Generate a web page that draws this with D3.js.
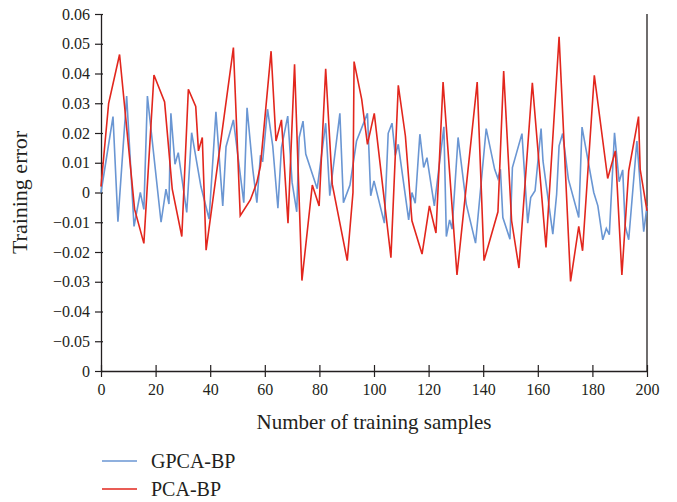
<!DOCTYPE html>
<html>
<head>
<meta charset="utf-8">
<script src="https://cdn.jsdelivr.net/npm/d3@7"></script>
<style>
    body { margin: 0; background: #fff; }
    svg text { font-family: "Liberation Serif", "DejaVu Serif", serif; fill: #231f20; }
</style>
</head>
<body>
<div id="chart"></div>
<script>
// values (x = sample number, y = training error)
const gpcaX = [0, 4.4, 6.2, 9.4, 12.1, 14.4, 15.7, 17.0, 22.0, 23.8, 24.9, 25.6, 27.1, 28.3, 31.4, 33.2, 36.6, 39.6, 42.1, 44.6,
    45.8, 48.5, 52.3, 53.5, 55.6, 57.1, 58.4, 59.2, 61.0, 62.9, 64.8, 66.1, 68.4, 70.0, 71.7, 72.6, 74.0, 75.0, 79.2, 82.3,
    83.8, 87.5, 88.8, 91.2, 93.6, 97.6, 98.8, 100.0, 103.8, 105.2, 106.6, 107.8, 108.9, 112.7, 113.9, 115.1, 116.8, 118.2, 119.4, 122.1,
    125.6, 126.5, 127.7, 128.6, 130.8, 133.8, 137.2, 141.1, 144.2, 145.4, 146.3, 147.2, 149.8, 150.7, 154.2, 156.3, 157.4, 159.0, 161.2, 161.9,
    165.5, 166.9, 167.8, 169.1, 171.2, 175.0, 176.2, 180.5, 182.0, 183.8, 185.1, 186.2, 188.1, 189.8, 191.1, 192.0, 193.3, 196.3, 198.8, 200];
const gpcaY = [0, 0.0255, -0.0098, 0.0324, -0.0114, 0, -0.0057, 0.0324, -0.0100, 0.0011, -0.0039, 0.0266, 0.0095, 0.0134, -0.0067, 0.0201, 0.0020, -0.0089, 0.0271, -0.0045,
    0.0154, 0.0244, -0.0034, 0.0285, 0.0078, -0.0034, 0.0125, 0.0103, 0.0280, 0.0157, -0.0053, 0.0151, 0.0257, 0.0034, -0.0065, 0.0185, 0.0240, 0.0129, 0.0013, 0.0233,
    -0.0011, 0.0266, -0.0034, 0.0025, 0.0173, 0.0266, -0.0011, 0.0039, -0.0103, 0.0199, 0.0233, 0.0125, 0.0162, -0.0092, 0, -0.0036, 0.0196, 0.0084, 0.0117, -0.0045,
    0.0221, -0.0148, -0.0092, -0.0123, 0.0185, -0.0039, -0.0170, 0.0215, 0.0078, 0.0047, 0.0078, -0.0084, -0.0157, 0.0084, 0.0198, -0.0103, -0.0017, 0.0006, 0.0215, 0.0106,
    -0.0140, -0.0006, 0.0157, 0.0198, 0.0045, -0.0084, 0.0220, 0, -0.0045, -0.0159, -0.0121, -0.0142, 0.0201, 0.0036, 0.0076, -0.0112, -0.0159, 0.0173, -0.0132, -0.0045];

const pcaX = [0, 2.8, 6.8, 12.3, 15.7, 19.4, 23.3, 26.1, 29.6, 32.0, 34.7, 35.7, 37.1, 38.5, 48.5, 51.0, 54.7, 57.1, 58.4, 62.3,
    64.1, 66.1, 68.5, 70.9, 73.6, 77.4, 79.9, 82.3, 84.7, 90.2, 92.3, 92.7, 95.5, 97.6, 100.1, 106.2, 108.9, 111.5, 113.9, 117.6,
    120.3, 122.7, 125.3, 130.4, 137.8, 140.3, 145.4, 147.5, 150.4, 153.1, 158.0, 163.0, 167.8, 172.0, 175.0, 176.4, 180.7, 185.6, 188.4, 190.8,
    193.3, 196.9, 197.5, 200];
const pcaY = [0.0020, 0.0300, 0.0464, -0.0056, -0.0171, 0.0395, 0.0304, 0.0011, -0.0148, 0.0347, 0.0289, 0.0140, 0.0185, -0.0194, 0.0487, -0.0078, -0.0025, 0.0034, 0.0089, 0.0475,
    0.0173, 0.0244, -0.0103, 0.0431, -0.0296, 0.0025, -0.0045, 0.0416, 0.0028, -0.0229, 0, 0.0440, 0.0313, 0.0162, 0.0266, -0.0219, 0.0360, 0.0190, -0.0095, -0.0207,
    -0.0045, -0.0136, 0.0371, -0.0277, 0.0371, -0.0229, -0.0065, 0.0408, -0.0095, -0.0254, 0.0369, -0.0185, 0.0523, -0.0299, -0.0114, -0.0196, 0.0394, 0.0047, 0.0140, -0.0277,
    0.0073, 0.0255, 0.0078, -0.0062];

const xTicks = [0, 20, 40, 60, 80, 100, 120, 140, 160, 180, 200];
const yTicks = [0.06, 0.05, 0.04, 0.03, 0.02, 0.01, 0, -0.01, -0.02, -0.03, -0.04, -0.05, -0.06];
const yTickLabels = ["0.06", "0.05", "0.04", "0.03", "0.02", "0.01", "0", "\u22120.01", "\u22120.02", "\u22120.03", "\u22120.04", "\u22120.05", "0"];
const seriesNames = ["GPCA-BP", "PCA-BP"];
const seriesColors = ["#6a96d3", "#e2261d"];

const fontSerif = "'Liberation Serif', 'DejaVu Serif', serif";

let margin = { top: 14, right: 30, bottom: 131, left: 101 };
let width = 677 - margin.left - margin.right;
let height = 502 - margin.top - margin.bottom;

const svg = d3.select("#chart").append("svg")
    .attr("width", 677)
    .attr("height", 502);

const g = svg.append("g")
    .attr("transform", "translate(" + margin.left + "," + margin.top + ")");

const x = d3.scaleLinear().domain([0, 200]).range([0, width]);
const y = d3.scaleLinear().domain([-0.06, 0.06]).range([height, 0]);

// axes with ticks crossing the axis line
const xAxis = g.append("g")
    .attr("transform", "translate(0," + height + ")")
    .call(d3.axisBottom(x).tickValues(xTicks).tickSize(6).tickPadding(7).tickFormat(d3.format("d")));

xAxis.selectAll(".tick line").attr("y1", -6);

const yAxis = g.append("g")
    .call(d3.axisLeft(y).tickValues(yTicks).tickSize(6).tickPadding(5)
        .tickFormat(function(d, i) { return yTickLabels[i]; }));

yAxis.selectAll(".tick line").attr("x1", 2);

xAxis.attr("font-family", fontSerif).attr("font-size", 16);
yAxis.attr("font-family", fontSerif).attr("font-size", 16);

g.selectAll(".domain").attr("stroke", "#231f20").attr("stroke-width", 1.3);
xAxis.select(".domain").attr("d", "M0,0.5H" + width);
yAxis.select(".domain").attr("d", "M0.5,0V" + height);

g.selectAll(".tick line").attr("stroke", "#231f20").attr("stroke-width", 1.2);
g.selectAll(".tick text")
    .style("font-family", fontSerif)
    .style("font-size", "16px")
    .attr("fill", "#231f20");

// right border
g.append("line")
    .attr("x1", width).attr("x2", width)
    .attr("y1", 0).attr("y2", height)
    .attr("stroke", "#231f20").attr("stroke-width", 1.3);

const line = d3.line()
    .x(function(d) { return x(d[0]); })
    .y(function(d) { return y(d[1]); });

const series = [d3.zip(gpcaX, gpcaY), d3.zip(pcaX, pcaY)];

g.selectAll(".series")
    .data(series)
  .enter().append("path")
    .attr("class", "series")
    .attr("fill", "none")
    .attr("stroke", function(d, i) { return seriesColors[i]; })
    .attr("stroke-width", 1.6)
    .attr("d", line);

// axis titles
svg.append("text")
    .attr("x", margin.left + width / 2)
    .attr("y", 429)
    .attr("text-anchor", "middle")
    .style("font-size", "21px")
    .text("Number of training samples");

svg.append("text")
    .attr("transform", "translate(27," + (margin.top + y(0)) + ") rotate(-90)")
    .attr("text-anchor", "middle")
    .style("font-size", "22px")
    .text("Training error");

// legend
const legend = svg.selectAll(".legend")
    .data(seriesNames)
  .enter().append("g")
    .attr("class", "legend")
    .attr("transform", function(d, i) { return "translate(102," + (461 + i * 28) + ")"; });

legend.append("line")
    .attr("x1", 0).attr("x2", 35)
    .attr("stroke", function(d, i) { return seriesColors[i]; })
    .attr("stroke-width", 1.6);

legend.append("text")
    .attr("x", 49)
    .attr("y", 7)
    .style("font-size", "20px")
    .text(function(d) { return d; });
</script>
</body>
</html>
